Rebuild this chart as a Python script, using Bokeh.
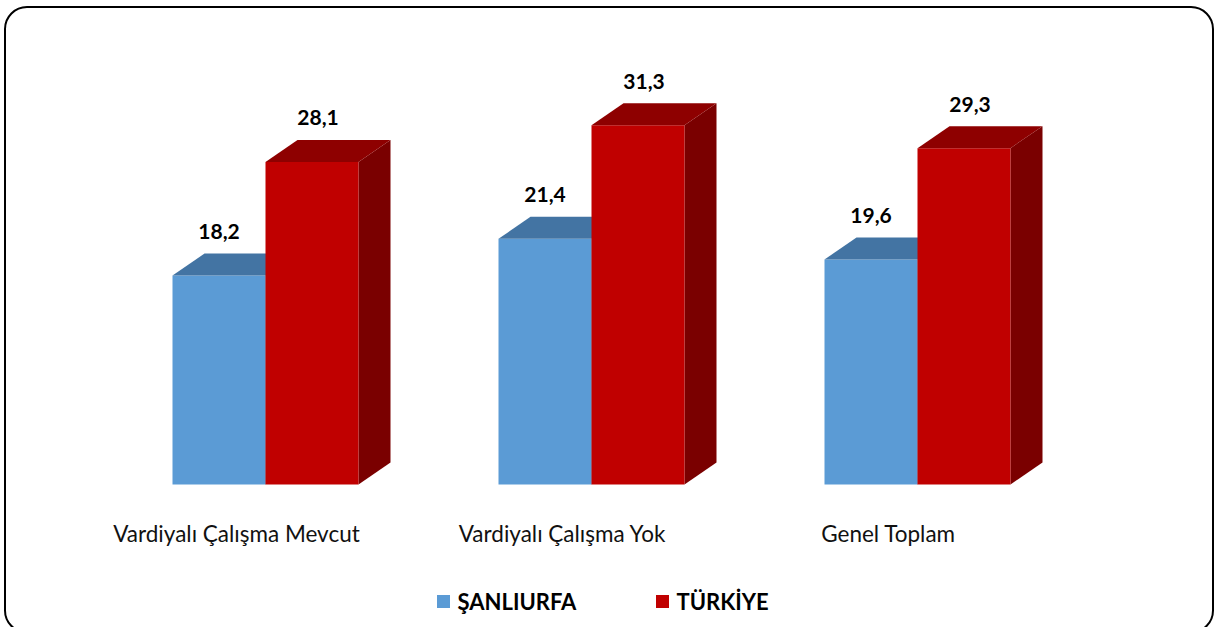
from bokeh.plotting import figure
from bokeh.models import Range1d, BoxAnnotation
from bokeh.core.properties import value
from bokeh.embed import file_html
from bokeh.resources import INLINE

categories = ["Vardiyalı Çalışma Mevcut", "Vardiyalı Çalışma Yok", "Genel Toplam"]
series_names = ["ŞANLIURFA", "TÜRKİYE"]
sanliurfa = [18.2, 21.4, 19.6]
turkiye = [28.1, 31.3, 29.3]
value_labels_s = ["18,2", "21,4", "19,6"]
value_labels_t = ["28,1", "31,3", "29,3"]

W, H = 1214, 627
PX_X = 326.0      # pixels per category unit
PX_Y = 11.48      # pixels per value unit
X0 = 265.0        # canvas px of category 0 center
Y0 = 484.0        # canvas px of value 0

def xd(px):
    return (px - X0) / PX_X

def yd(px):
    return (Y0 - px) / PX_Y

p = figure(width=W, height=H, output_backend="svg", toolbar_location=None,
           x_range=Range1d(xd(0), xd(W)), y_range=Range1d(yd(H), yd(0)),
           min_border=0, min_border_left=0, min_border_right=0,
           min_border_top=0, min_border_bottom=0)
p.axis.visible = False
p.grid.visible = False
p.outline_line_color = None
p.background_fill_color = "white"
p.border_fill_color = "white"

bw = 93 / PX_X
dx = 32 / PX_X
dy = 22 / PX_Y

front_cols = ["#5B9BD5", "#C00000"]
top_cols = ["#4374A3", "#8E0000"]
side_cols = ["#3A6790", "#7A0000"]

for si, vals in enumerate([sanliurfa, turkiye]):
    fx, fy, tx, ty, sx, sy = [], [], [], [], [], []
    for ci, v in enumerate(vals):
        x0 = ci - bw if si == 0 else ci
        x1 = x0 + bw
        fx.append([x0, x1, x1, x0]); fy.append([0, 0, v, v])
        tx.append([x0, x1, x1 + dx, x0 + dx]); ty.append([v, v, v + dy, v + dy])
        sx.append([x1, x1 + dx, x1 + dx, x1]); sy.append([0, dy, v + dy, v])
    p.patches(sx, sy, fill_color=side_cols[si], line_color=None)
    p.patches(fx, fy, fill_color=front_cols[si], line_color=None)
    p.patches(tx, ty, fill_color=top_cols[si], line_color=None)

lab_dy = 22 / PX_Y
xs_s = [ci - bw / 2 for ci in range(3)]
xs_t = [ci + bw / 2 + 6 / PX_X for ci in range(3)]
p.text(xs_s, [v + dy + lab_dy for v in sanliurfa], text=value_labels_s,
       text_font=value("Lato"), text_font_style="bold", text_font_size="21px",
       text_align="center", text_baseline="middle", text_color="black")
p.text(xs_t, [v + dy + lab_dy for v in turkiye], text=value_labels_t,
       text_font=value("Lato"), text_font_style="bold", text_font_size="21px",
       text_align="center", text_baseline="middle", text_color="black")

cat_x = [ci - 29 / PX_X for ci in range(3)]
p.text(cat_x, [yd(533)] * 3, text=categories,
       text_font=value("Lato"), text_font_size="22.5px",
       text_align="center", text_baseline="middle", text_color="#111111")

# legend
leg_x = [xd(443), xd(662)]
leg_y = yd(601)
p.scatter(leg_x, [leg_y, leg_y], marker="square", size=13,
          fill_color=front_cols, line_color=None)
p.text([xd(457), xd(676)], [leg_y, leg_y], text=series_names,
       text_font=value("Lato"), text_font_style="bold", text_font_size="22px",
       text_align="left", text_baseline="middle", text_color="black")

box = BoxAnnotation(left=xd(4.5), right=xd(1212.5), top=yd(6.5), bottom=yd(632),
                    fill_color=None, fill_alpha=0, line_color="black", line_alpha=1.0,
                    line_width=2, border_radius=22)
p.add_layout(box)

open("out.html", "w").write(file_html(p, INLINE))
